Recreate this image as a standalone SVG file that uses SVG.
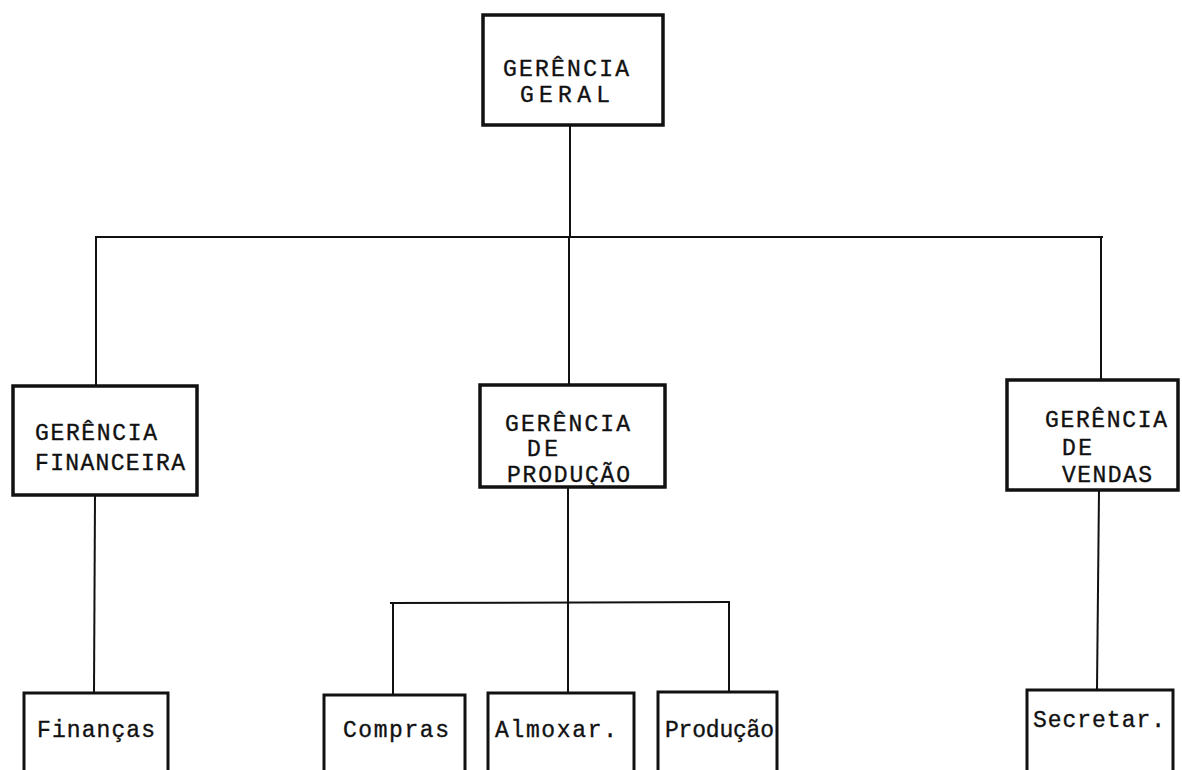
<svg xmlns="http://www.w3.org/2000/svg" width="1182" height="770" viewBox="0 0 1182 770">
<style>
.box{fill:#fff;stroke:#111;stroke-width:3.5}
.sub{fill:#fff;stroke:#111;stroke-width:3}
.ln{stroke:#111;stroke-width:2;fill:none}
text{font-family:"Liberation Mono","DejaVu Sans Mono",monospace;font-size:23px;fill:#111;stroke:#111;stroke-width:0.35}
</style>
<rect width="1182" height="770" fill="#fff"/>
<g id="connectors">
<line class="ln" x1="570" y1="125" x2="570" y2="237"/>
<line class="ln" x1="95" y1="237" x2="1103" y2="237"/>
<line class="ln" x1="96" y1="237" x2="96" y2="386"/>
<line class="ln" x1="569" y1="237" x2="569" y2="385"/>
<line class="ln" x1="1101" y1="237" x2="1101" y2="380"/>
<line class="ln" x1="95" y1="495" x2="94" y2="693"/>
<line class="ln" x1="568" y1="487" x2="568" y2="693"/>
<line class="ln" x1="390" y1="603" x2="730" y2="602"/>
<line class="ln" x1="393" y1="603" x2="393" y2="695"/>
<line class="ln" x1="729" y1="602" x2="729" y2="692"/>
<line class="ln" x1="1099" y1="490" x2="1097" y2="690"/>
</g>
<g id="n_geral">
<rect class="box" x="483" y="15" width="180" height="110"/>
<text x="503" y="76" textLength="126" lengthAdjust="spacing">GERÊNCIA</text>
<text x="520" y="102" textLength="90" lengthAdjust="spacing">GERAL</text>
</g>
<g id="n_financeira">
<rect class="box" x="13" y="386" width="184" height="109"/>
<text x="35" y="440" textLength="122" lengthAdjust="spacing">GERÊNCIA</text>
<text x="35" y="470" textLength="150" lengthAdjust="spacing">FINANCEIRA</text>
</g>
<g id="n_producao">
<rect class="box" x="480" y="385" width="185" height="102"/>
<text x="505" y="431" textLength="125" lengthAdjust="spacing">GERÊNCIA</text>
<text x="527" y="456" textLength="31" lengthAdjust="spacing">DE</text>
<text x="507" y="482" textLength="123" lengthAdjust="spacing">PRODUÇÃO</text>
</g>
<g id="n_vendas">
<rect class="box" x="1007" y="380" width="171" height="110"/>
<text x="1045" y="427" textLength="122" lengthAdjust="spacing">GERÊNCIA</text>
<text x="1062" y="455" textLength="30" lengthAdjust="spacing">DE</text>
<text x="1062" y="482" textLength="90" lengthAdjust="spacing">VENDAS</text>
</g>
<g id="n_financas">
<rect class="sub" x="24" y="693" width="144" height="100"/>
<text x="37" y="737" textLength="118" lengthAdjust="spacing">Finanças</text>
</g>
<g id="n_compras">
<rect class="sub" x="324" y="695" width="141" height="100"/>
<text x="343" y="737" textLength="106" lengthAdjust="spacing">Compras</text>
</g>
<g id="n_almoxar">
<rect class="sub" x="488" y="693" width="146" height="100"/>
<text x="495" y="737" textLength="122" lengthAdjust="spacing">Almoxar.</text>
</g>
<g id="n_producao2">
<rect class="sub" x="658" y="692" width="119" height="100"/>
<text x="665" y="737" textLength="109" lengthAdjust="spacing">Produção</text>
</g>
<g id="n_secretar">
<rect class="sub" x="1027" y="690" width="146" height="100"/>
<text x="1033" y="727" textLength="132" lengthAdjust="spacing">Secretar.</text>
</g>
</svg>
